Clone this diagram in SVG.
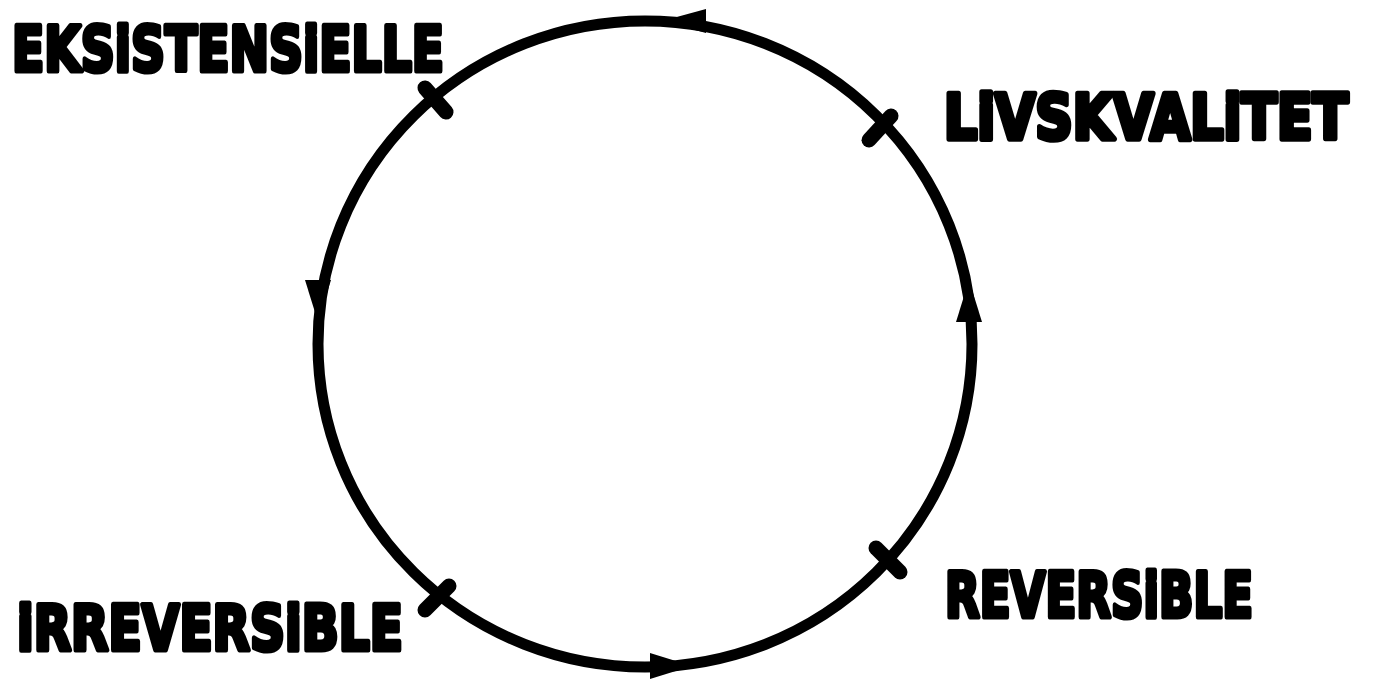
<svg xmlns="http://www.w3.org/2000/svg" width="1373" height="690" viewBox="0 0 1373 690">
<style>
.lbl{font-family:"DejaVu Sans","Liberation Sans",sans-serif;font-weight:bold;font-size:62px;fill:#000;stroke:#000;stroke-width:5;stroke-linejoin:round}
.tick{stroke:#000;stroke-width:15;stroke-linecap:round}
.ah{fill:#000}
</style>
<rect width="1373" height="690" fill="#fff"/>
<g id="connectors">
<ellipse cx="645" cy="344" rx="327" ry="323" fill="none" stroke="#000" stroke-width="11"/>
<polygon class="ah" points="662,21 706,9 706,33"/>
<polygon class="ah" points="969,280 956,322 982,322"/>
<polygon class="ah" points="318,322 305,280 331,280"/>
<polygon class="ah" points="692,666 650,653 650,679"/>
</g>
<g id="node-eksistensielle">
<line class="tick" x1="425" y1="88" x2="446" y2="112"/>
<text class="lbl" x="12" y="71" textLength="432" lengthAdjust="spacingAndGlyphs">EKSiSTENSiELLE</text>
</g>
<g id="node-livskvalitet">
<line class="tick" x1="869" y1="140" x2="891" y2="116"/>
<text class="lbl" transform="translate(944,139) scale(1,1.24)" x="0" y="0" style="font-size:50px;stroke-width:4.5" textLength="404" lengthAdjust="spacingAndGlyphs">LiVSKVALiTET</text>
</g>
<g id="node-reversible">
<line class="tick" x1="876" y1="548" x2="900" y2="572"/>
<text class="lbl" x="945" y="617" textLength="308" lengthAdjust="spacingAndGlyphs">REVERSiBLE</text>
</g>
<g id="node-irreversible">
<line class="tick" x1="449" y1="586" x2="425" y2="610"/>
<text class="lbl" x="17" y="650" textLength="386" lengthAdjust="spacingAndGlyphs">iRREVERSiBLE</text>
</g>
</svg>
